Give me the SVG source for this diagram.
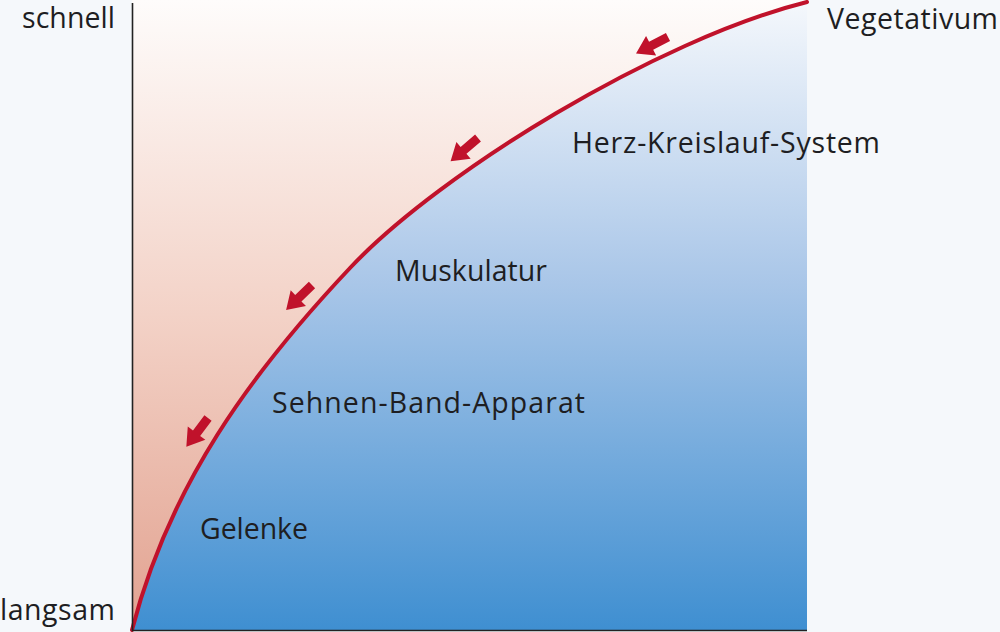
<svg xmlns="http://www.w3.org/2000/svg" width="1000" height="632" viewBox="0 0 1000 632">
  <defs>
    <linearGradient id="pink" x1="0" y1="0" x2="0" y2="630" gradientUnits="userSpaceOnUse">
      <stop offset="0" stop-color="#fefcfb"/>
      <stop offset="0.5" stop-color="#f3d2c7"/>
      <stop offset="1" stop-color="#e2a290"/>
    </linearGradient>
    <linearGradient id="blue" x1="0" y1="0" x2="0" y2="630" gradientUnits="userSpaceOnUse">
      <stop offset="0" stop-color="#f5f8fc"/>
      <stop offset="0.45" stop-color="#a9c6e8"/>
      <stop offset="1" stop-color="#3f8fd1"/>
    </linearGradient>
    <polygon id="arr" points="0,-4.5 19,-4.5 19,-11 36,0 19,11 19,4.5 0,4.5"/>
    <style>
      text { font-family: "Open Sans", "Noto Sans", "DejaVu Sans", sans-serif; font-size: 28.5px; fill: #1e1e22; }
      .arrow { fill: #c0122b; }
      .curve { fill: none; stroke: #c0122b; stroke-width: 4; stroke-linecap: round; }
      .axis { fill: none; stroke: #222; stroke-width: 1.6; }
    </style>
  </defs>
  <rect x="0" y="0" width="1000" height="632" fill="#f5f8fb"/>
  <g id="plot">
    <rect x="132" y="0" width="675" height="630" fill="url(#pink)"/>
    <path fill="url(#blue)" d="M132,630 C169,486 250,374 350,268 C440,172.6 657,39.5 807,2 L807,630 Z"/>
  </g>
  <g id="connectors">
    <path class="curve" d="M132,630 C169,486 250,374 350,268 C440,172.6 657,39.5 807,2"/>
    <use href="#arr" class="arrow" transform="translate(668,37) rotate(152.7)"/>
    <use href="#arr" class="arrow" transform="translate(478,138) rotate(139.6)"/>
    <use href="#arr" class="arrow" transform="translate(312,285) rotate(136)"/>
    <use href="#arr" class="arrow" transform="translate(208,418) rotate(127)"/>
    <path class="axis" d="M132.5,3 V630.5 H807"/>
  </g>
  <g id="node-schnell"><text x="22" y="28" textLength="93" lengthAdjust="spacing">schnell</text></g>
  <g id="node-langsam"><text x="0" y="620" textLength="115" lengthAdjust="spacing">langsam</text></g>
  <g id="node-vegetativum"><text x="827" y="29" textLength="171" lengthAdjust="spacing">Vegetativum</text></g>
  <g id="node-herz"><text x="572" y="153" textLength="308" lengthAdjust="spacing">Herz-Kreislauf-System</text></g>
  <g id="node-muskulatur"><text x="395" y="281" textLength="152" lengthAdjust="spacing">Muskulatur</text></g>
  <g id="node-sehnen"><text x="272" y="413" textLength="313" lengthAdjust="spacing">Sehnen-Band-Apparat</text></g>
  <g id="node-gelenke"><text x="200" y="539" textLength="108" lengthAdjust="spacing">Gelenke</text></g>
</svg>
